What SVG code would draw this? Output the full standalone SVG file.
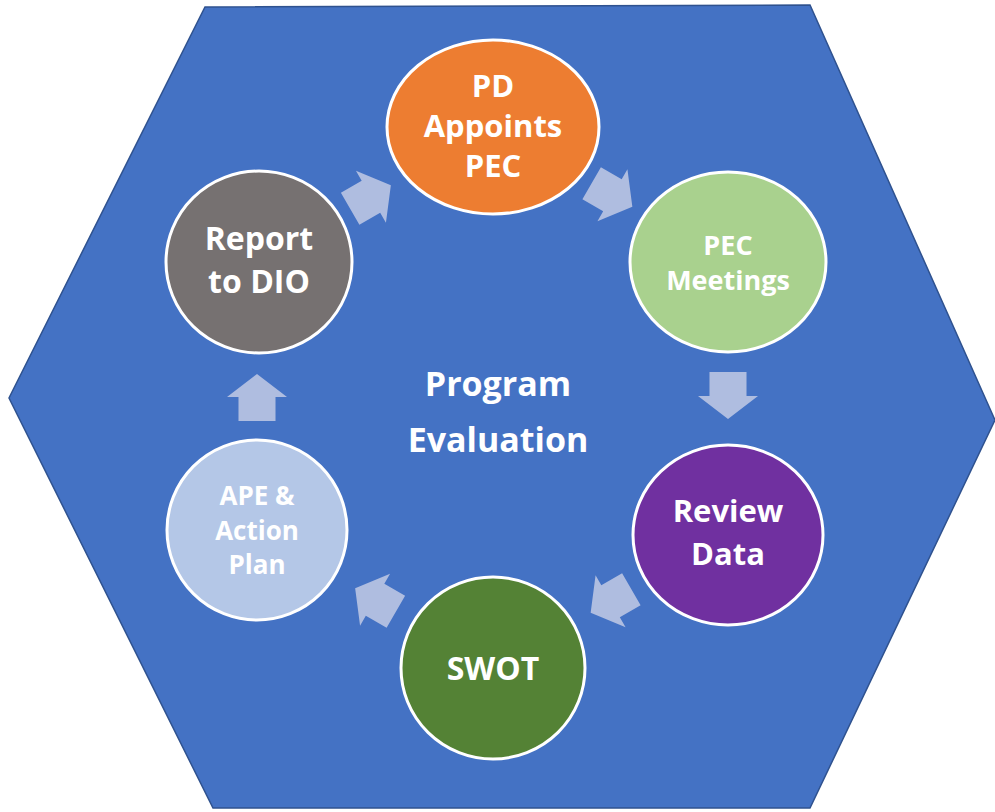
<svg xmlns="http://www.w3.org/2000/svg" width="995" height="812" viewBox="0 0 995 812">
<defs>
<style>
.node{stroke:#FFFFFF;stroke-width:3}
.t{font-family:"Open Sans","Noto Sans","Liberation Sans",sans-serif;font-weight:bold;fill:#FFFFFF;text-anchor:middle}
.arr{fill:#AFBDE0}
</style>
<polygon id="blk" points="-23.5,-18.5 0.5,-18.5 0.5,-30 23.5,0 0.5,30 0.5,18.5 -23.5,18.5"/>
</defs>
<rect width="995" height="812" fill="#FFFFFF"/>
<g id="hexagon">
<polygon points="205,7 810,5 995,420 810,808 213,808 9,398" fill="#4472C4" stroke="#2F528F" stroke-width="1.5"/>
</g>
<g id="connectors" class="arr">
<use href="#blk" transform="translate(370.5,197) rotate(-30)"/>
<use href="#blk" transform="translate(612,195) rotate(30)"/>
<use href="#blk" transform="translate(728,395.5) rotate(90)"/>
<use href="#blk" transform="translate(611,601) rotate(150)"/>
<use href="#blk" transform="translate(375.5,600) rotate(210)"/>
<use href="#blk" transform="translate(257,397.5) rotate(-90)"/>
</g>
<g id="center-label">
<text class="t" x="498" y="396" font-size="34">Program</text>
<text class="t" x="498" y="452" font-size="34">Evaluation</text>
</g>
<g id="pd-appoints-pec">
<ellipse class="node" cx="493" cy="127" rx="106" ry="87" fill="#ED7D31"/>
<text class="t" x="493" y="97" font-size="31">PD</text>
<text class="t" x="493" y="137" font-size="31">Appoints</text>
<text class="t" x="493" y="177" font-size="31">PEC</text>
</g>
<g id="pec-meetings">
<ellipse class="node" cx="728" cy="262" rx="98" ry="90" fill="#A9D18E"/>
<text class="t" x="728" y="255" font-size="27">PEC</text>
<text class="t" x="728" y="290" font-size="27">Meetings</text>
</g>
<g id="review-data">
<ellipse class="node" cx="728" cy="535" rx="95" ry="90" fill="#7030A0"/>
<text class="t" x="728" y="522" font-size="31">Review</text>
<text class="t" x="728" y="565" font-size="31">Data</text>
</g>
<g id="swot">
<ellipse class="node" cx="493" cy="668" rx="92" ry="91" fill="#548235"/>
<text class="t" x="493" y="680" font-size="32">SWOT</text>
</g>
<g id="ape-action-plan">
<ellipse class="node" cx="257" cy="530" rx="90" ry="90" fill="#B4C7E7"/>
<text class="t" x="257" y="505" font-size="26">APE &amp;</text>
<text class="t" x="257" y="540" font-size="26">Action</text>
<text class="t" x="257" y="574" font-size="26">Plan</text>
</g>
<g id="report-to-dio">
<ellipse class="node" cx="259" cy="262" rx="93" ry="91" fill="#767171"/>
<text class="t" x="259" y="250" font-size="32">Report</text>
<text class="t" x="259" y="293" font-size="32">to DIO</text>
</g>
</svg>
